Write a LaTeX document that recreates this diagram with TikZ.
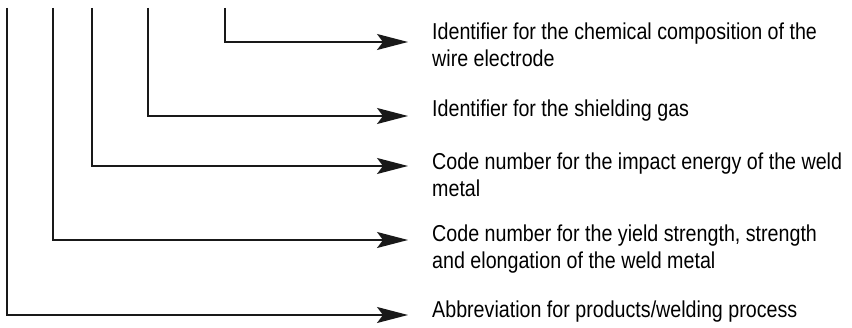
\documentclass[tikz,border=0pt]{standalone}
\usepackage{fontspec}
\setmainfont{Liberation Sans}[FakeStretch=0.855]
\usetikzlibrary{arrows.meta}

\begin{document}
\begin{tikzpicture}[x=1pt,y=-1pt,
  lead/.style={line width=1.6pt,draw=black!90,-{Stealth[length=31pt,width=16pt,inset=6pt]}},
  desc/.style={anchor=base west,inner sep=0pt,font=\fontsize{23}{27}\selectfont}]

  \useasboundingbox (0,0) rectangle (852,328);

  % Leaders: x of the vertical / y of the arrow / y of the text / first line / second line
  \def\LeaderList{225/42/40/{Identifier for the chemical composition of the}/{wire electrode},
    148/116/117/{Identifier for the shielding gas}/{},
    92/166/170/{Code number for the impact energy of the weld}/{metal},
    53/240/242/{Code number for the yield strength, strength}/{and elongation of the weld metal},
    7/315/318/{Abbreviation for products/welding process}/{}}

  \def\tipX{408}
  \def\textX{432}

  %Points and labels
  \foreach \x/\y/\ty/\lineA/\lineB [count=\i] in \LeaderList
     {\coordinate (top\i) at (\x,8);
      \coordinate (tip\i) at (\tipX,\y);
      \node[desc] (txt\i) at (\textX,\ty) {\vtop{\hbox{\lineA}\hbox{\lineB}}};}

  % Leader lines
  \foreach \i in {1,...,5}
      \draw [lead] (top\i) |- (tip\i);

\end{tikzpicture}
\end{document}
